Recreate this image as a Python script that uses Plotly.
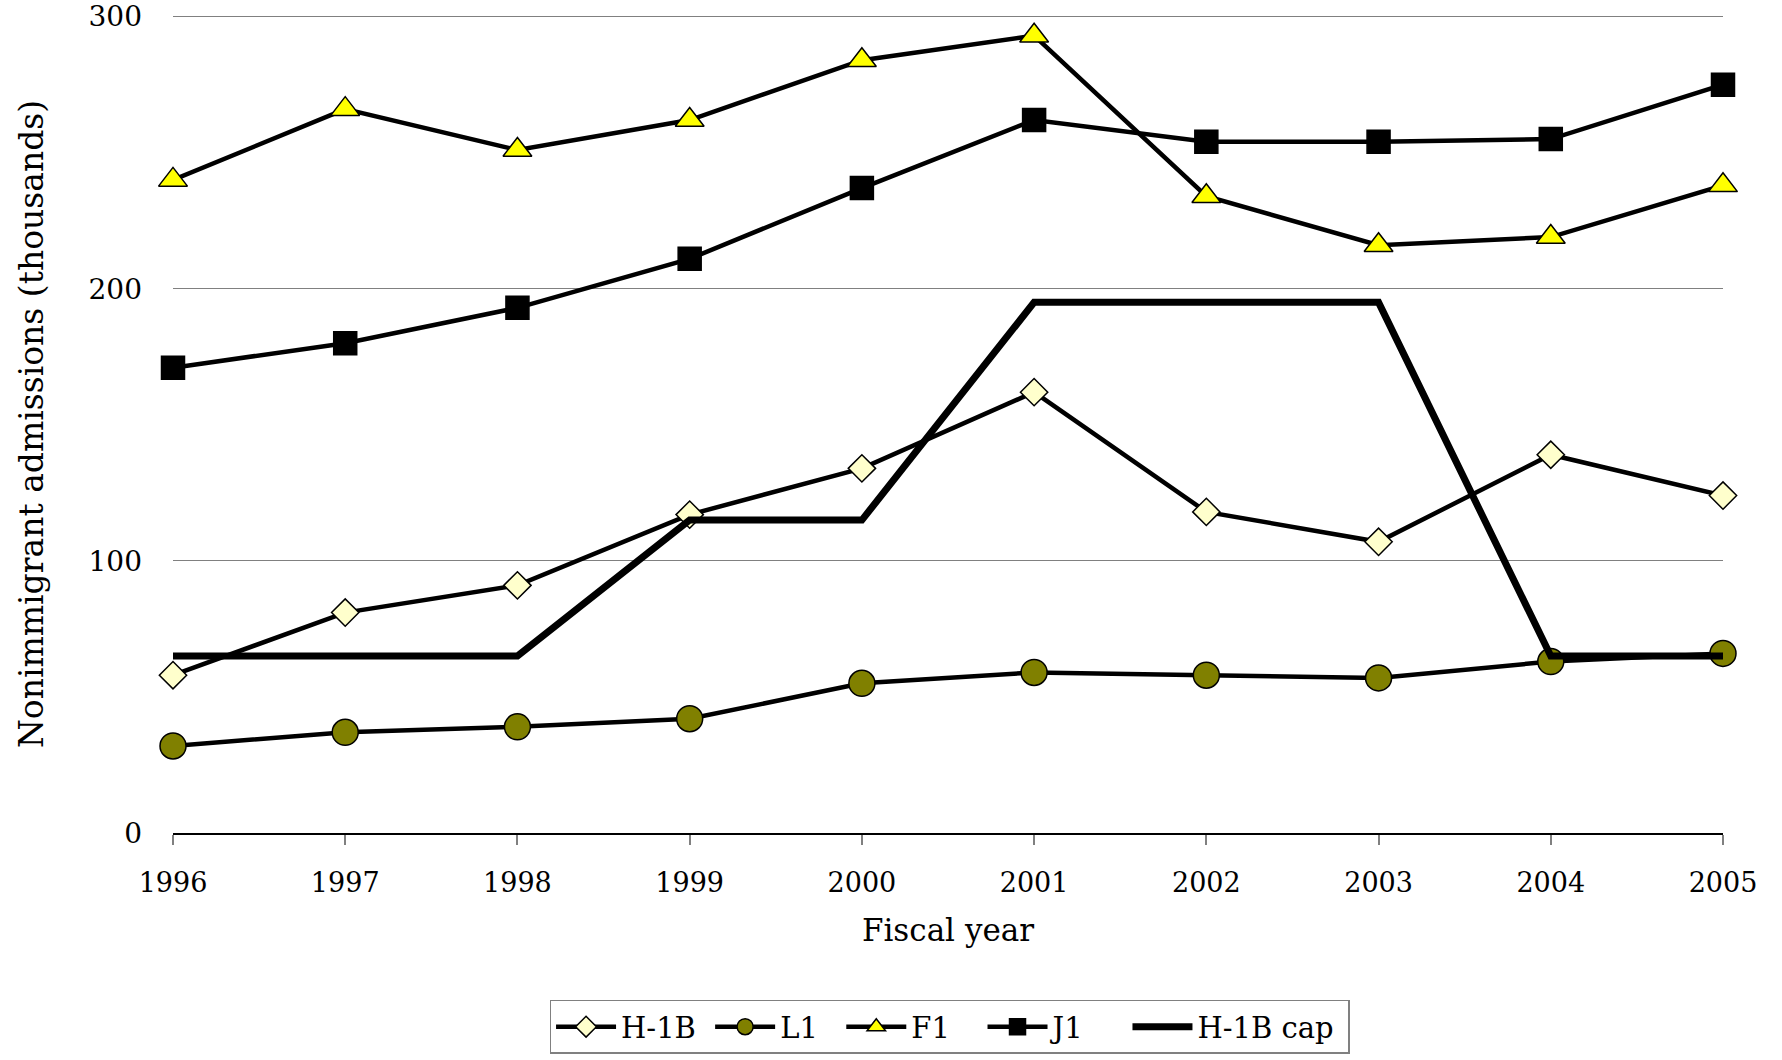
import plotly.graph_objects as go

# Fiscal years on the x axis
years = [1996, 1997, 1998, 1999, 2000, 2001, 2002, 2003, 2004, 2005]

# Nonimmigrant admissions, thousands
h1b = [58, 81, 91, 117, 134, 162, 118, 107, 139, 124]
l1 = [32, 37, 39, 42, 55, 59, 58, 57, 63, 66]
f1 = [240, 266, 251, 262, 284, 293, 234, 216, 219, 238]
j1 = [171, 180, 193, 211, 237, 262, 254, 254, 255, 275]
h1b_cap = [65, 65, 65, 115, 115, 195, 195, 195, 65, 65]

y_ticks = [0, 100, 200, 300]

FONT = "DejaVu Serif"
NB = "\u00a0"  # non-breaking space, widens the gap between legend entries

fig = go.Figure()

series = [
    ("H-1B", h1b, dict(symbol="diamond", size=21, color="#FFFFCC"), 1),
    ("L1", l1, dict(symbol="circle", size=26, color="#808000"), 2),
    ("F1", f1, dict(symbol="triangle-up", size=25, color="#FFFF00"), 3),
    ("J1", j1, dict(symbol="square", size=23, color="#000000"), 4),
]

for name, values, mk, pad in series:
    fig.add_trace(go.Scatter(
        x=years, y=values, name=name + NB * pad, mode="lines+markers",
        line=dict(color="black", width=4.5),
        marker=dict(symbol=mk["symbol"], size=mk["size"], color=mk["color"],
                    line=dict(color="black", width=1.5)),
        cliponaxis=False,
    ))

fig.add_trace(go.Scatter(
    x=years, y=h1b_cap, name="H-1B cap" + NB, mode="lines",
    line=dict(color="black", width=7),
    cliponaxis=False,
))

fig.update_layout(
    width=1782, height=1060,
    margin=dict(l=173, r=59, t=15, b=227, autoexpand=False),
    paper_bgcolor="white", plot_bgcolor="white",
    font=dict(family=FONT, size=28, color="black"),
    showlegend=True,
    legend=dict(
        orientation="h",
        x=0.501, xanchor="center",
        y=-0.204, yanchor="top",
        bordercolor="#808080", borderwidth=1.5,
        font=dict(family=FONT, size=29, color="black"),
        itemwidth=60,
        traceorder="normal",
    ),
)

fig.update_xaxes(
    range=[1996, 2005],
    tickvals=years, ticktext=[str(y) for y in years],
    showgrid=False, zeroline=False, automargin=False,
    showline=True, linecolor="black", linewidth=1.5,
    ticks="outside", ticklen=10, tickcolor="#808080", tickwidth=1.5,
    ticklabelstandoff=15,
    tickfont=dict(family=FONT, size=27),
    title=dict(text="Fiscal year", font=dict(family=FONT, size=31), standoff=22),
)

fig.update_yaxes(
    range=[0, 300.6],
    tickvals=y_ticks,
    showgrid=True, gridcolor="#808080", gridwidth=1,
    zeroline=False, showline=False, automargin=False,
    ticks="", ticklabelstandoff=30,
    tickfont=dict(family=FONT, size=28),
    title=dict(text="Nonimmigrant admissions (thousands)",
               font=dict(family=FONT, size=33), standoff=34),
)

fig.write_html("out.html")
